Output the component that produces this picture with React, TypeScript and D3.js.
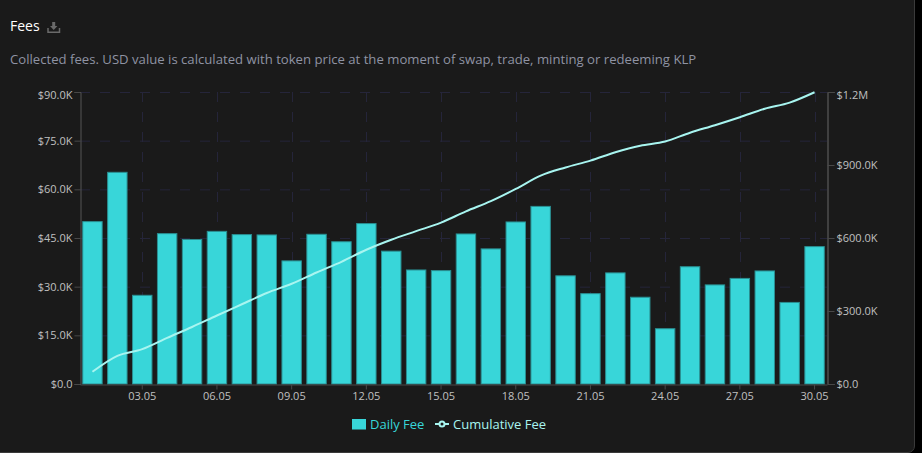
import React, { useEffect, useRef } from "react";
import * as d3 from "d3";

const days = [
  "01.05", "02.05", "03.05", "04.05", "05.05", "06.05", "07.05", "08.05", "09.05", "10.05",
  "11.05", "12.05", "13.05", "14.05", "15.05", "16.05", "17.05", "18.05", "19.05", "20.05",
  "21.05", "22.05", "23.05", "24.05", "25.05", "26.05", "27.05", "28.05", "29.05", "30.05",
];
const dayTicks = ["03.05", "06.05", "09.05", "12.05", "15.05", "18.05", "21.05", "24.05", "27.05", "30.05"];

const dailyFee = [
  50200, 65400, 27500, 46500, 44700, 47200, 46200, 46100, 38100, 46300,
  44000, 49600, 41100, 35300, 35100, 46400, 41800, 50100, 54900, 33500,
  28000, 34400, 26900, 17200, 36300, 30700, 32700, 35000, 25300, 42500,
];
const cumulativeFee = [
  50200, 115600, 143100, 189600, 234300, 281500, 327700, 373800, 411900, 458200,
  502200, 551800, 592900, 628200, 663300, 709700, 751500, 801600, 856500, 890000,
  918000, 952400, 979300, 996500, 1032800, 1063500, 1096200, 1131200, 1156500, 1199000,
];

const leftTicks = [0, 15000, 30000, 45000, 60000, 75000, 90000];
const rightTicks = [0, 300000, 600000, 900000, 1200000];

const FONT = "'Open Sans', sans-serif";
const BAR = "#38d6d9";
const LINE = "#a8f5f0";

const formatMoney = (v: number): string => {
  if (v === 0) return "$0.0";
  if (v >= 1000000) return `$${(v / 1000000).toFixed(1)}M`;
  return `$${(v / 1000).toFixed(1)}K`;
};

const drawChart = (el: SVGGElement) => {
  const left = 80;
  const right = 827;
  const top = 92;
  const bottom = 384;

  const svg = d3.select(el);
  svg.selectAll("*").remove();

  const x = d3.scaleBand<string>().domain(days).range([left, right]).paddingInner(0.22).paddingOuter(0.11);
  const yLeft = d3.scaleLinear().domain([0, 90000]).range([bottom, top]);
  const yRight = d3.scaleLinear().domain([0, 1200000]).range([bottom, top]);
  const cx = (d: string) => (x(d) as number) + x.bandwidth() / 2;

  // Grid
  const grid = svg.append("g").attr("fill", "none").attr("stroke", "#25253a").attr("stroke-dasharray", "10 10");
  grid
    .selectAll("line.h")
    .data(leftTicks.slice(1))
    .enter()
    .append("line")
    .attr("x1", left)
    .attr("x2", right)
    .attr("y1", (d) => yLeft(d) + 0.5)
    .attr("y2", (d) => yLeft(d) + 0.5);
  grid
    .selectAll("line.v")
    .data(dayTicks)
    .enter()
    .append("line")
    .attr("x1", (d) => Math.round(cx(d)) + 0.5)
    .attr("x2", (d) => Math.round(cx(d)) + 0.5)
    .attr("y1", top)
    .attr("y2", bottom);

  // Bars
  svg
    .append("g")
    .selectAll("rect")
    .data(days)
    .enter()
    .append("rect")
    .attr("x", (d) => x(d) as number)
    .attr("y", (_, i) => yLeft(dailyFee[i]) + 0.5)
    .attr("width", x.bandwidth())
    .attr("height", (_, i) => bottom - yLeft(dailyFee[i]) - 0.5)
    .attr("fill", BAR)
    .attr("stroke", "#2a8f92")
    .attr("stroke-width", 1);

  // Axes
  const styleAxis = (g: d3.Selection<SVGGElement, unknown, null, undefined>, stroke: string) => {
    g.attr("font-family", FONT).attr("font-size", 11);
    g.selectAll(".domain").attr("stroke", stroke);
    g.selectAll(".tick line").attr("stroke", "#484848");
    g.selectAll(".tick text").attr("fill", "#c0c0c0");
  };

  const axisLeft = svg
    .append("g")
    .attr("transform", `translate(${left + 0.5},0)`)
    .call(
      d3.axisLeft(yLeft).tickValues(leftTicks).tickFormat((d) => formatMoney(+d)).tickSize(6).tickSizeOuter(6).tickPadding(2)
    );
  styleAxis(axisLeft, "#555555");

  const axisRight = svg
    .append("g")
    .attr("transform", `translate(${right + 0.5},0)`)
    .call(
      d3.axisRight(yRight).tickValues(rightTicks).tickFormat((d) => formatMoney(+d)).tickSize(7).tickSizeOuter(7).tickPadding(2)
    );
  styleAxis(axisRight, "#666666");

  // top labels sit a little under their tick
  axisLeft.selectAll<SVGTextElement, number>(".tick text").filter((d) => d === 90000).attr("dy", "0.6em");
  axisRight.selectAll<SVGTextElement, number>(".tick text").filter((d) => d === 1200000).attr("dy", "0.6em");

  const axisBottom = svg
    .append("g")
    .attr("transform", `translate(0,${bottom + 0.5})`)
    .call(d3.axisBottom(x).tickValues(dayTicks).tickSize(5).tickSizeOuter(0).tickPadding(3));
  styleAxis(axisBottom, "#484848");

  // Cumulative line
  const line = d3
    .line<number>()
    .x((_, i) => cx(days[i]))
    .y((d) => yRight(d))
    .curve(d3.curveMonotoneX);
  svg
    .append("path")
    .attr("d", line(cumulativeFee))
    .attr("fill", "none")
    .attr("stroke", LINE)
    .attr("stroke-width", 2);

  // Legend
  const legend = svg.append("g").attr("font-family", FONT).attr("font-size", 13);
  legend.append("rect").attr("x", 352).attr("y", 419).attr("width", 14).attr("height", 10.5).attr("fill", BAR);
  legend.append("text").attr("x", 370).attr("y", 429).attr("fill", BAR).text("Daily Fee");
  legend.append("line").attr("x1", 435).attr("x2", 449).attr("y1", 424).attr("y2", 424).attr("stroke", LINE).attr("stroke-width", 2);
  legend.append("circle").attr("cx", 442).attr("cy", 424).attr("r", 2.5).attr("fill", "#1a1a1a").attr("stroke", LINE).attr("stroke-width", 2);
  legend.append("text").attr("x", 453).attr("y", 429).attr("fill", LINE).text("Cumulative Fee");
};

const App: React.FC = () => {
  const gRef = useRef<SVGGElement>(null);

  useEffect(() => {
    if (gRef.current) drawChart(gRef.current);
  }, []);

  return (
    <div style={{ position: "absolute", left: 0, top: 0, width: 922, height: 453, background: "#000", overflow: "hidden" }}>
      <div
        style={{
          position: "absolute",
          left: -10,
          top: -10,
          width: 925,
          height: 463,
          boxSizing: "border-box",
          background: "#1a1a1a",
          border: "1px solid #3a3a3a",
          borderRadius: 7,
        }}
      />
      <svg width={922} height={453} style={{ position: "absolute", left: 0, top: 0, display: "block" }}>
        <text x={10} y={31} fill="#ffffff" fontFamily={FONT} fontSize={14}>
          Fees
        </text>
        {/* download icon */}
        <g fill="none" stroke="#6a6a6a" strokeWidth={1.5}>
          <path d="M48 28v4.2h11.5V28" />
          <path d="M53.7 22v5" strokeWidth={3} />
        </g>
        <path d="M50 26h7.4l-3.7 4z" fill="#6a6a6a" />
        <text x={10} y={64} fill="#8f93a3" fontFamily={FONT} fontSize={13.15}>
          Collected fees. USD value is calculated with token price at the moment of swap, trade, minting or redeeming KLP
        </text>
        <g ref={gRef} />
      </svg>
    </div>
  );
};

export default App;
